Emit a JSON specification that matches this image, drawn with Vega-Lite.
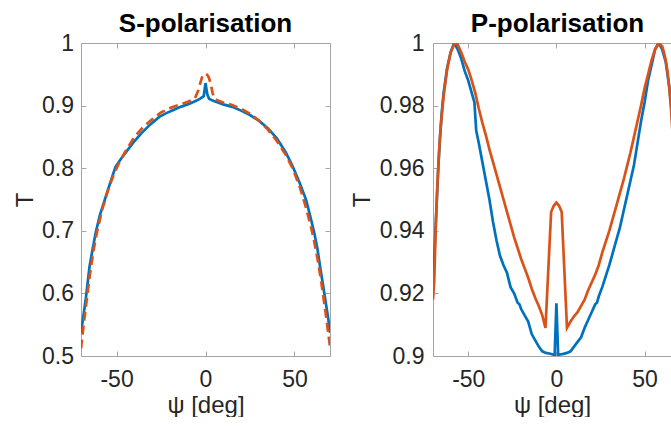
{
  "$schema": "https://vega.github.io/schema/vega-lite/v6.json",
  "padding": {"left": 13, "top": 11, "right": 0, "bottom": 0},
  "autosize": {"type": "pad"},
  "bounds": "flush",
  "spacing": 103,
  "config": {
    "view": {"stroke": null},
    "font": "Liberation Sans",
    "axis": {
      "grid": false,
      "labelFont": "Liberation Sans",
      "titleFont": "Liberation Sans",
      "labelFontSize": 23,
      "titleFontSize": 24,
      "titleFontWeight": "normal",
      "labelColor": "#262626",
      "titleColor": "#262626",
      "domainColor": "#a6a6a6",
      "tickColor": "#a6a6a6",
      "domainWidth": 1,
      "tickWidth": 1,
      "tickSize": -5,
      "labelOverlap": false,
      "labelExpr": "replace(datum.label, '−', '-')"
    },
    "title": {"font": "Liberation Sans", "fontSize": 26, "fontWeight": "bold", "color": "#000000"}
  },
  "datasets": {
    "sA": [
      {"x": -70, "T": 0.537}, {"x": -68.5, "T": 0.567}, {"x": -67.4, "T": 0.589}, {"x": -65.2, "T": 0.643},
      {"x": -63.5, "T": 0.67}, {"x": -61.8, "T": 0.696}, {"x": -59.5, "T": 0.724}, {"x": -56.7, "T": 0.749},
      {"x": -54, "T": 0.773}, {"x": -50.6, "T": 0.802}, {"x": -47.5, "T": 0.815}, {"x": -44.6, "T": 0.826},
      {"x": -40, "T": 0.843}, {"x": -36, "T": 0.856}, {"x": -31, "T": 0.870}, {"x": -26, "T": 0.882},
      {"x": -22, "T": 0.888}, {"x": -18, "T": 0.893}, {"x": -14, "T": 0.898}, {"x": -9, "T": 0.903},
      {"x": -5, "T": 0.908}, {"x": -3, "T": 0.911}, {"x": -1, "T": 0.915}, {"x": 0, "T": 0.936},
      {"x": 1, "T": 0.918}, {"x": 2, "T": 0.911}, {"x": 4, "T": 0.908}, {"x": 7, "T": 0.905},
      {"x": 10, "T": 0.902}, {"x": 15, "T": 0.898}, {"x": 20, "T": 0.892}, {"x": 25, "T": 0.885},
      {"x": 30, "T": 0.876}, {"x": 35, "T": 0.864}, {"x": 40, "T": 0.848}, {"x": 45, "T": 0.826},
      {"x": 49, "T": 0.803}, {"x": 53, "T": 0.776}, {"x": 56.6, "T": 0.749}, {"x": 59, "T": 0.722},
      {"x": 61.2, "T": 0.696}, {"x": 63, "T": 0.670}, {"x": 64.4, "T": 0.643}, {"x": 66, "T": 0.615},
      {"x": 67.4, "T": 0.589}, {"x": 69, "T": 0.560}, {"x": 70, "T": 0.537}
    ],
    "sB": [
      {"x": -70, "T": 0.512}, {"x": -68.5, "T": 0.55}, {"x": -67, "T": 0.585}, {"x": -65, "T": 0.63},
      {"x": -63, "T": 0.668}, {"x": -61, "T": 0.698}, {"x": -58, "T": 0.735}, {"x": -55, "T": 0.763},
      {"x": -52, "T": 0.787}, {"x": -49, "T": 0.806}, {"x": -45, "T": 0.827}, {"x": -40, "T": 0.85},
      {"x": -35, "T": 0.866}, {"x": -30, "T": 0.878}, {"x": -25, "T": 0.889}, {"x": -20, "T": 0.896},
      {"x": -15, "T": 0.901}, {"x": -10, "T": 0.906}, {"x": -6, "T": 0.911}, {"x": -4, "T": 0.925},
      {"x": -2, "T": 0.945}, {"x": -1, "T": 0.950}, {"x": 0, "T": 0.951}, {"x": 1, "T": 0.949},
      {"x": 2, "T": 0.944}, {"x": 3, "T": 0.934}, {"x": 4, "T": 0.92}, {"x": 5, "T": 0.911},
      {"x": 7, "T": 0.908}, {"x": 10, "T": 0.905}, {"x": 15, "T": 0.901}, {"x": 20, "T": 0.895},
      {"x": 25, "T": 0.887}, {"x": 30, "T": 0.876}, {"x": 35, "T": 0.862}, {"x": 40, "T": 0.844},
      {"x": 45, "T": 0.822}, {"x": 49, "T": 0.8}, {"x": 53, "T": 0.77}, {"x": 56, "T": 0.742},
      {"x": 59, "T": 0.71}, {"x": 61, "T": 0.685}, {"x": 63, "T": 0.655}, {"x": 65, "T": 0.62},
      {"x": 67, "T": 0.58}, {"x": 68.5, "T": 0.548}, {"x": 70, "T": 0.515}
    ],
    "pA": [
      {"x": -70, "T": 0.921}, {"x": -69, "T": 0.935}, {"x": -68, "T": 0.948}, {"x": -67, "T": 0.96},
      {"x": -66, "T": 0.97}, {"x": -65, "T": 0.978}, {"x": -64, "T": 0.984}, {"x": -62, "T": 0.992},
      {"x": -60, "T": 0.997}, {"x": -58, "T": 1.0}, {"x": -56, "T": 0.998}, {"x": -54, "T": 0.995},
      {"x": -52, "T": 0.991}, {"x": -50, "T": 0.988}, {"x": -48, "T": 0.984}, {"x": -46.5, "T": 0.981},
      {"x": -45.5, "T": 0.972}, {"x": -44, "T": 0.968}, {"x": -42, "T": 0.962}, {"x": -40, "T": 0.956},
      {"x": -38, "T": 0.950}, {"x": -36, "T": 0.943}, {"x": -34, "T": 0.937}, {"x": -32, "T": 0.932},
      {"x": -30, "T": 0.929}, {"x": -28, "T": 0.9265}, {"x": -26, "T": 0.922}, {"x": -24, "T": 0.920},
      {"x": -22, "T": 0.917}, {"x": -21, "T": 0.9165}, {"x": -20, "T": 0.915}, {"x": -18, "T": 0.913},
      {"x": -16, "T": 0.911}, {"x": -14, "T": 0.907}, {"x": -12, "T": 0.905}, {"x": -10, "T": 0.903},
      {"x": -8, "T": 0.9015}, {"x": -6, "T": 0.901}, {"x": -4, "T": 0.9008}, {"x": -2, "T": 0.9005},
      {"x": -1, "T": 0.9002}, {"x": 0, "T": 0.9168}, {"x": 1, "T": 0.9002}, {"x": 2, "T": 0.9005},
      {"x": 4, "T": 0.9007}, {"x": 6, "T": 0.901}, {"x": 8, "T": 0.9015}, {"x": 10, "T": 0.903},
      {"x": 12, "T": 0.9045}, {"x": 14, "T": 0.906}, {"x": 16, "T": 0.909}, {"x": 18, "T": 0.9115},
      {"x": 20, "T": 0.914}, {"x": 22, "T": 0.9165}, {"x": 23, "T": 0.917}, {"x": 24, "T": 0.919},
      {"x": 26, "T": 0.922}, {"x": 28, "T": 0.9255}, {"x": 30, "T": 0.929}, {"x": 32, "T": 0.933},
      {"x": 34, "T": 0.937}, {"x": 36, "T": 0.941}, {"x": 38, "T": 0.946}, {"x": 40, "T": 0.951},
      {"x": 42, "T": 0.956}, {"x": 44, "T": 0.961}, {"x": 46, "T": 0.968}, {"x": 48, "T": 0.975},
      {"x": 50, "T": 0.981}, {"x": 52, "T": 0.988}, {"x": 54, "T": 0.993}, {"x": 56, "T": 0.998},
      {"x": 58, "T": 1.0}, {"x": 60, "T": 0.998}, {"x": 62, "T": 0.994}, {"x": 64, "T": 0.986},
      {"x": 66, "T": 0.975}, {"x": 68, "T": 0.962}, {"x": 70, "T": 0.945}
    ],
    "pB": [
      {"x": -70, "T": 0.918}, {"x": -69.3, "T": 0.924}, {"x": -68.5, "T": 0.94}, {"x": -67.5, "T": 0.955},
      {"x": -66.5, "T": 0.966}, {"x": -65.5, "T": 0.974}, {"x": -64, "T": 0.983}, {"x": -62, "T": 0.9915},
      {"x": -60, "T": 0.997}, {"x": -58, "T": 0.9995}, {"x": -57, "T": 1.0}, {"x": -56, "T": 0.9995},
      {"x": -54, "T": 0.997}, {"x": -52, "T": 0.994}, {"x": -50, "T": 0.9915}, {"x": -48, "T": 0.988},
      {"x": -46, "T": 0.984}, {"x": -44, "T": 0.979}, {"x": -42, "T": 0.9745}, {"x": -40, "T": 0.9705},
      {"x": -38, "T": 0.966}, {"x": -36, "T": 0.962}, {"x": -34, "T": 0.958}, {"x": -32, "T": 0.954},
      {"x": -30, "T": 0.950}, {"x": -28, "T": 0.946}, {"x": -26, "T": 0.942}, {"x": -24, "T": 0.938},
      {"x": -22, "T": 0.9345}, {"x": -20, "T": 0.931}, {"x": -18, "T": 0.928}, {"x": -16, "T": 0.925},
      {"x": -14, "T": 0.9215}, {"x": -12, "T": 0.9185}, {"x": -10, "T": 0.916}, {"x": -8, "T": 0.913},
      {"x": -6.2, "T": 0.909}, {"x": -3, "T": 0.946}, {"x": -1.5, "T": 0.948}, {"x": 0, "T": 0.949},
      {"x": 1.5, "T": 0.948}, {"x": 3, "T": 0.946}, {"x": 6, "T": 0.909}, {"x": 8, "T": 0.911},
      {"x": 10, "T": 0.9127}, {"x": 12, "T": 0.914}, {"x": 14, "T": 0.916}, {"x": 16, "T": 0.918},
      {"x": 18, "T": 0.921}, {"x": 20, "T": 0.9235}, {"x": 22, "T": 0.926}, {"x": 24, "T": 0.929},
      {"x": 26, "T": 0.933}, {"x": 28, "T": 0.9365}, {"x": 30, "T": 0.940}, {"x": 32, "T": 0.944},
      {"x": 34, "T": 0.948}, {"x": 36, "T": 0.952}, {"x": 38, "T": 0.956}, {"x": 40, "T": 0.9605},
      {"x": 42, "T": 0.965}, {"x": 44, "T": 0.970}, {"x": 46, "T": 0.975}, {"x": 48, "T": 0.980},
      {"x": 50, "T": 0.9855}, {"x": 52, "T": 0.990}, {"x": 54, "T": 0.9945}, {"x": 56, "T": 0.998},
      {"x": 58, "T": 1.0}, {"x": 60, "T": 0.999}, {"x": 61, "T": 0.997}, {"x": 62, "T": 0.9945},
      {"x": 63, "T": 0.991}, {"x": 64, "T": 0.986}, {"x": 65, "T": 0.979}, {"x": 66, "T": 0.97},
      {"x": 68, "T": 0.95}, {"x": 70, "T": 0.925}
    ]
  },
  "hconcat": [
    {
      "width": 249,
      "height": 313,
      "title": {"text": "S-polarisation", "offset": -5},
      "layer": [
        {
          "data": {"name": "sA"},
          "mark": {"type": "line", "color": "#0072BD", "strokeWidth": 2.7, "clip": true},
          "encoding": {
            "x": {"field": "x", "type": "quantitative", "scale": {"domain": [-70, 70], "nice": false, "zero": false},
                  "axis": {"values": [-50, 0, 50], "title": "ψ [deg]", "labelPadding": 17, "titlePadding": 2}},
            "y": {"field": "T", "type": "quantitative", "scale": {"domain": [0.5, 1], "nice": false, "zero": false},
                  "axis": {"values": [0.5, 0.6, 0.7, 0.8, 0.9, 1], "format": "~g", "title": "T", "labelPadding": 12.5, "titlePadding": 4}}
          }
        },
        {
          "data": {"name": "sB"},
          "mark": {"type": "line", "color": "#D95319", "strokeWidth": 2.7, "strokeDash": [9, 5], "clip": true},
          "encoding": {
            "x": {"field": "x", "type": "quantitative",
                  "axis": {"orient": "top", "values": [-50, 0, 50], "labels": false, "title": null}},
            "y": {"field": "T", "type": "quantitative",
                  "axis": {"orient": "right", "values": [0.5, 0.6, 0.7, 0.8, 0.9, 1], "labels": false, "title": null}}
          }
        }
      ],
      "resolve": {"axis": {"x": "independent", "y": "independent"}}
    },
    {
      "width": 238,
      "height": 313,
      "title": {"text": "P-polarisation", "offset": -5, "dx": 5.5},
      "layer": [
        {
          "data": {"name": "pA"},
          "mark": {"type": "line", "color": "#0072BD", "strokeWidth": 2.7, "clip": true},
          "encoding": {
            "x": {"field": "x", "type": "quantitative", "scale": {"domain": [-70, 65], "nice": false, "zero": false},
                  "axis": {"values": [-50, 0, 50], "title": "ψ [deg]", "labelPadding": 17, "titlePadding": 2}},
            "y": {"field": "T", "type": "quantitative", "scale": {"domain": [0.9, 1], "nice": false, "zero": false},
                  "axis": {"values": [0.9, 0.92, 0.94, 0.96, 0.98, 1], "format": "~g", "title": "T", "labelPadding": 14, "titlePadding": 5}}
          }
        },
        {
          "data": {"name": "pB"},
          "mark": {"type": "line", "color": "#D95319", "strokeWidth": 2.7, "clip": true},
          "encoding": {
            "x": {"field": "x", "type": "quantitative",
                  "axis": {"orient": "top", "values": [-50, 0, 50], "labels": false, "title": null}},
            "y": {"field": "T", "type": "quantitative", "axis": null}
          }
        }
      ],
      "resolve": {"axis": {"x": "independent", "y": "independent"}}
    }
  ]
}
